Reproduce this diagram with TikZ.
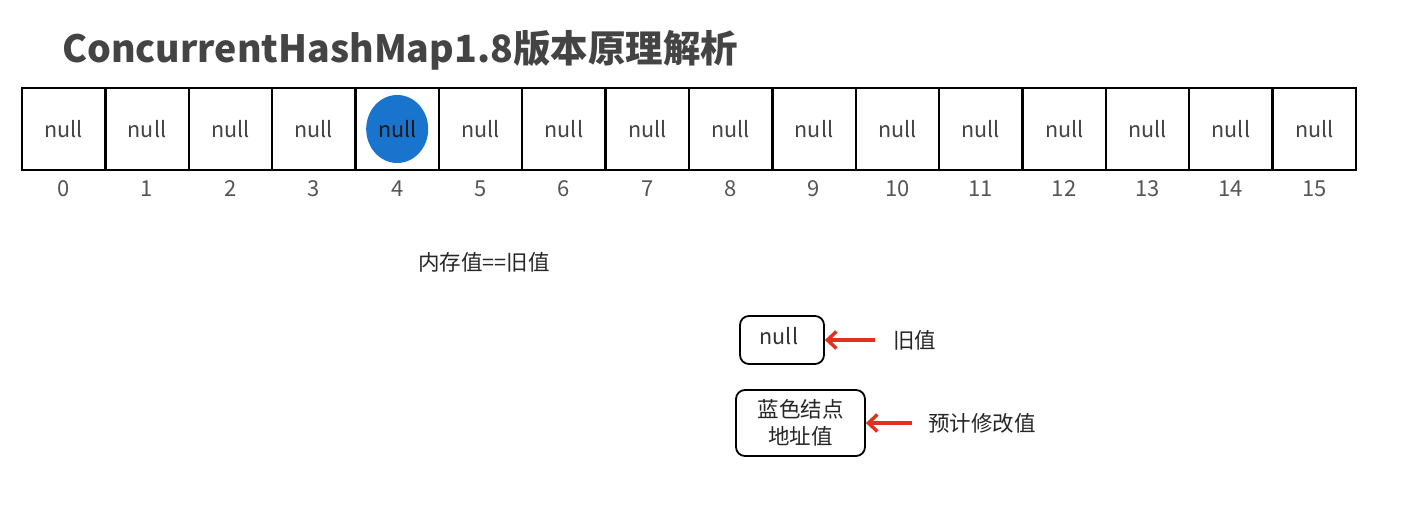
\documentclass[tikz,border=0pt]{standalone}
\usepackage{fontspec}
\setmainfont{Noto Sans CJK SC}
\usetikzlibrary{arrows.meta}
\definecolor{txt}{HTML}{444444}
\definecolor{idxc}{HTML}{555555}
\definecolor{blu}{HTML}{1874CD}
\definecolor{arr}{HTML}{E0301E}
\begin{document}
\begin{tikzpicture}[x=1pt,y=-1pt,
  cellbox/.style={draw=black,line width=2.4pt,minimum width=83.4pt,minimum height=82pt,inner sep=0pt},
  nulltxt/.style={text=txt,font=\fontsize{21.5}{24}\selectfont,inner sep=0pt},
  idx/.style={text=idxc,font=\fontsize{22}{24}\selectfont,inner sep=0pt},
  note/.style={text=black!85,font=\fontsize{21.5}{27}\selectfont,inner sep=0pt},
  rbox/.style={draw=black,line width=1.8pt,rounded corners=9pt,inner sep=0pt},
  redarr/.style={draw=arr,line width=3.4pt,-{Straight Barb[length=9pt,width=17pt]}}]
\useasboundingbox (0,0) rectangle (1414,528);
\fill[white] (0,0) rectangle (1414,528);
\node[font=\bfseries\fontsize{37.5}{42}\selectfont,text=txt,anchor=west,inner sep=0pt] (title) at (62,50) {ConcurrentHashMap1.8版本原理解析};
\foreach \i in {0,...,15} {
  \node[cellbox] (c\i) at ({22+83.375*(\i+0.5)},129) {};
  \node[idx] (i\i) at ({22+83.375*(\i+0.5)},189) {\i};
}
\fill[blu] (c4.center) ellipse (31 and 34);
\foreach \i in {0,1,2,3,5,6,7,8,9,10,11,12,13,14,15} {
  \node[nulltxt] (n\i) at (c\i) {null};
}
\node[nulltxt,text=black!90] (n4) at (c4) {null};
\node[note] (cmp) at (484,262) {内存值==旧值};
\node[rbox,minimum width=84pt,minimum height=48pt] (oldbox) at (782,340) {};
\node[nulltxt,text=black!80] (oldnull) at (779,336) {null};
\node[note,anchor=west] (oldlbl) at (893,340) {旧值};
\draw[redarr] ([xshift=-18pt]oldlbl.west) -- (oldbox.east);
\node[rbox,note,align=center,minimum width=129pt,minimum height=66pt] (newbox) at (800.5,423) {蓝色结点\\地址值};
\node[note,anchor=west] (newlbl) at (928,423) {预计修改值};
\draw[redarr] ([xshift=-16pt]newlbl.west) -- (newbox.east);
\end{tikzpicture}
\end{document}
